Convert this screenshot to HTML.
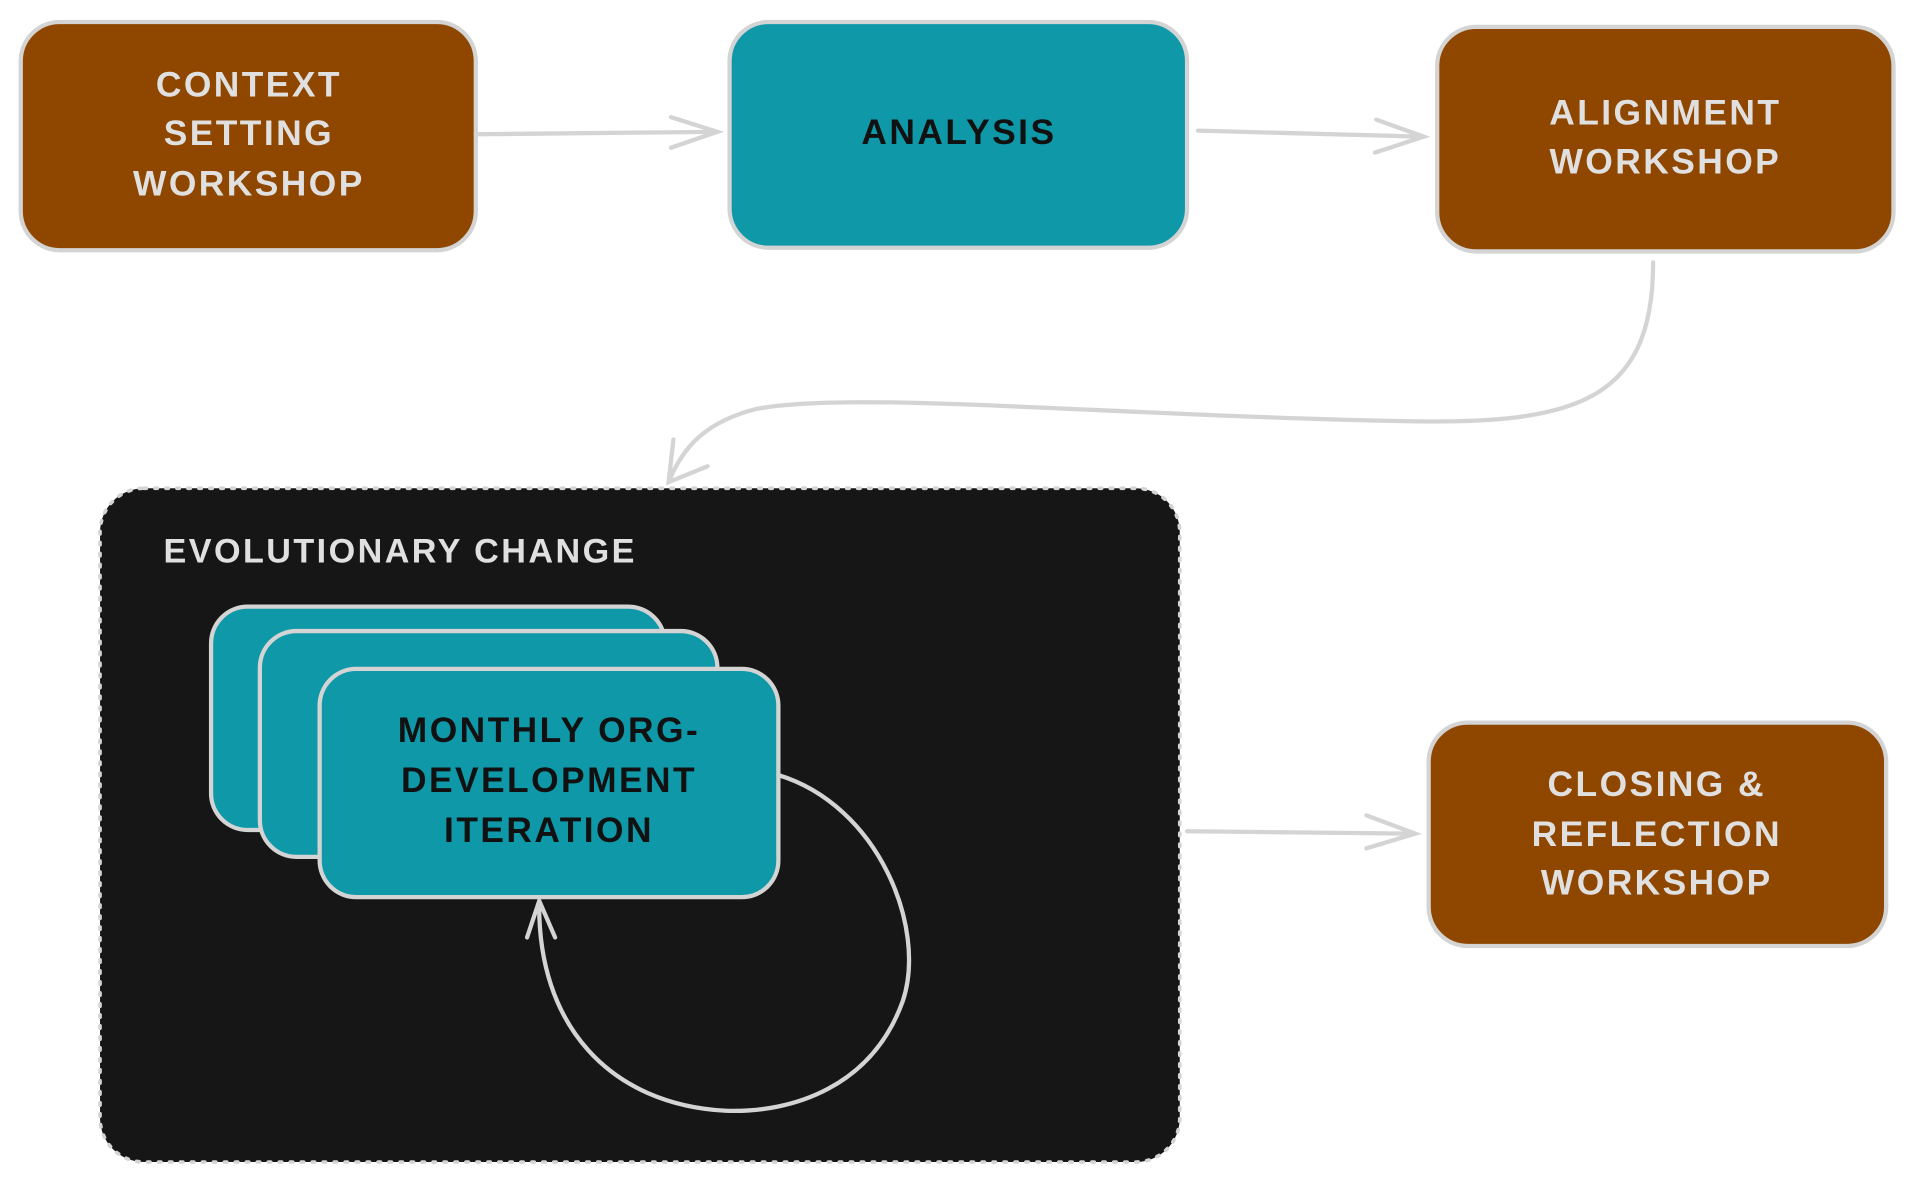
<!DOCTYPE html>
<html><head><meta charset="utf-8"><style>
html,body{margin:0;padding:0;background:#fff;width:1913px;height:1184px;overflow:hidden}
svg{display:block}
text{font-family:"Liberation Sans",sans-serif;font-weight:bold;text-anchor:middle;letter-spacing:2px}
</style></head><body>
<svg width="1913" height="1184" viewBox="0 0 1568 970" preserveAspectRatio="none">
<g stroke="#d4d4d4" stroke-width="3.5" fill="none" stroke-linecap="round">
<!-- top boxes -->
<rect x="17" y="18" width="373" height="187" rx="32" fill="#8f4700"/>
<rect x="598" y="18" width="375" height="185" rx="32" fill="#0e98a8"/>
<rect x="1178" y="22" width="374" height="184" rx="32" fill="#8f4700"/>
<rect x="1171" y="592" width="375" height="183" rx="32" fill="#8f4700"/>
<!-- container -->
<rect x="82" y="400" width="885" height="552" rx="36" fill="#161616" stroke-dasharray="2 7" stroke-width="3"/>
<!-- stacked cards -->
<rect x="173" y="497" width="372" height="183" rx="30" fill="#0e98a8"/>
<rect x="213" y="517" width="375" height="185" rx="30" fill="#0e98a8"/>
<rect x="262" y="548" width="376" height="187" rx="30" fill="#0e98a8"/>
<!-- arrows -->
<path d="M390 110 L588 108 M550 96 L588 108 L550 121"/>
<path d="M982 107 L1167 112 M1128 98 L1167 112 L1127 125"/>
<path d="M1355 215 C1355 330 1290 348 1150 345 C900 340 700 320 620 335 C580 345 560 365 548 395 M552 360 L548 395 L580 382"/>
<path d="M973 681 L1160 683 M1120 668 L1160 683 L1120 695"/>
<path d="M638 635 C720 660 760 760 740 820 C715 890 650 912 595 910 C500 905 440 840 442 738 M432 768 L442 738 L455 768"/>
</g>
<g font-size="29" fill="#e0e0e0">
<text x="204" y="79">CONTEXT</text>
<text x="204" y="119">SETTING</text>
<text x="204" y="160">WORKSHOP</text>
<text x="1365" y="102">ALIGNMENT</text>
<text x="1365" y="142">WORKSHOP</text>
<text x="1358" y="652">CLOSING &amp;</text>
<text x="1358" y="693">REFLECTION</text>
<text x="1358" y="733">WORKSHOP</text>
<text x="328" y="461" font-size="28" style="text-anchor:middle">EVOLUTIONARY CHANGE</text>
</g>
<g font-size="29" fill="#111">
<text x="786" y="118">ANALYSIS</text>
<text x="450" y="608">MONTHLY ORG-</text>
<text x="450" y="649">DEVELOPMENT</text>
<text x="450" y="690">ITERATION</text>
</g>
</svg>
</body></html>
